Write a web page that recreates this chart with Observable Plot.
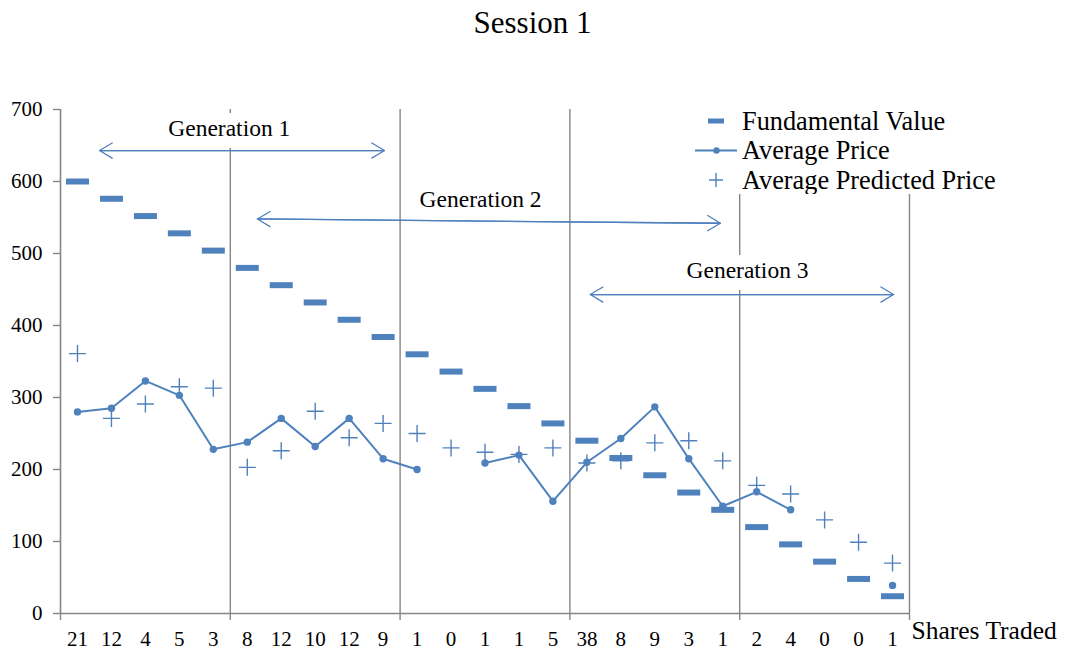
<!DOCTYPE html>
<html>
<head>
<meta charset="utf-8">
<script src="https://cdn.jsdelivr.net/npm/d3@7"></script>
<script src="https://cdn.jsdelivr.net/npm/@observablehq/plot@0.6"></script>
<style>
  body { margin: 0; background: #fff; font-family: "Liberation Serif", "Times New Roman", serif; }
  #wrap { position: relative; width: 1065px; height: 654px; overflow: hidden; }
  #title { height: 48px; line-height: 45px; text-align: center; font-size: 31px; color: #000; }
  #legend { position: absolute; left: 690px; top: 106px; }
  #chart svg, #chart svg text { font-family: "Liberation Serif", "Times New Roman", serif !important; }
</style>
</head>
<body>
<div id="wrap">
  <div id="title">Session 1</div>
  <div id="chart"></div>
  <div id="legend"></div>
</div>
<script>
// ---- data ----
const periods = [1,2,3,4,5,6,7,8,9,10,11,12,13,14,15,16,17,18,19,20,21,22,23,24,25];
const sharesTraded = ["21","12","4","5","3","8","12","10","12","9","1","0","1","1","5","38","8","9","3","1","2","4","0","0","1"];
const fundamentalValue = [600,576,552,528,504,480,456,432,408,384,360,336,312,288,264,240,216,192,168,144,120,96,72,48,24];
const averagePrice = [280,285,323,303,228,238,271,232,271,215,200,null,209,220,156,210,243,287,215,149,169,144,null,null,39];
const averagePredictedPrice = [361,271,291,315,313,203,226,281,244,264,250,230,224,221,230,209,212,237,240,212,178,166,130,99,70];
const yTicks = [0,100,200,300,400,500,600,700];
const generationBoundaries = [5.5,10.5,15.5,20.5,25.5];
const axisTickPositions = [0.5,5.5,10.5,15.5,20.5,25.5];
const seriesNames = ["Fundamental Value","Average Price","Average Predicted Price"];
// generation annotations (in period / price units)
const genNames = ["Generation 1","Generation 2","Generation 3"];
const genLabelX = [5.47, 12.87, 20.73];
const genLabelY = [674, 575, 476];
const genArrowFrom = [1.65, 6.3, 16.1];
const genArrowTo = [10.04, 19.93, 25.03];
const genArrowYFrom = [643, 548, 443];
const genArrowYTo = [643, 542, 443];

// ---- build ----
const blue = "#4F81BD";
const gray = "#868686";
const serif = "'Liberation Serif', 'Times New Roman', serif";
const rows = periods.map((p, i) => ({
  period: p, fv: fundamentalValue[i], price: averagePrice[i], pred: averagePredictedPrice[i]
}));
const gens = genNames.map((name, i) => ({
  name, lx: genLabelX[i], ly: genLabelY[i],
  x1: genArrowFrom[i], x2: genArrowTo[i], y1: genArrowYFrom[i], y2: genArrowYTo[i]
}));

const dashSymbol = { draw(ctx) { ctx.rect(-11.5, -3, 23, 6); } };
const plusSymbol = { draw(ctx) { ctx.moveTo(-8.5, 0); ctx.lineTo(8.5, 0); ctx.moveTo(0, -8.5); ctx.lineTo(0, 8.5); } };

const chart = Plot.plot({
  width: 1065,
  height: 606,
  marginTop: 61,
  marginBottom: 41,
  marginLeft: 60,
  marginRight: 156,
  style: `background: #fff; font-family: ${serif}; color: #000;`,
  x: { type: "linear", domain: [0.5, 25.5] },
  y: { domain: [0, 700] },
  marks: [
    Plot.ruleX(generationBoundaries, { stroke: gray, strokeWidth: 1.4 }),
    Plot.ruleX([0.5], { stroke: gray, strokeWidth: 1.6 }),
    Plot.ruleY([0], { stroke: gray, strokeWidth: 1.6 }),
    Plot.axisY({ ticks: yTicks, tickSize: 7, tickPadding: 11, stroke: gray, fill: "#000", fontSize: 21, label: null, strokeWidth: 1.4, fontFamily: serif }),
    Plot.axisX({ ticks: axisTickPositions, tickSize: 7, tickFormat: () => "", stroke: gray, strokeWidth: 1.4, label: null }),
    Plot.axisX({ ticks: periods, tickSize: 0, tickPadding: 18, tickFormat: d => sharesTraded[d - 1], fill: "#000", fontSize: 21, label: null, fontFamily: serif }),
    Plot.text(["Shares Traded"], { frameAnchor: "bottom-right", textAnchor: "start", dx: 2, dy: 25, fontSize: 25.5, fill: "#000", fontFamily: serif }),
    // generation annotations (white box behind label hides the boundary rules)
    Plot.text(gens, { x: "lx", y: "ly", text: "name", fontSize: 23.5, fill: "#000", stroke: "#fff", strokeWidth: 24, fontFamily: serif }),
    Plot.arrow(gens, { x1: "x1", y1: "y1", x2: "x2", y2: "y2", stroke: blue, strokeWidth: 1.3, headLength: 17, headAngle: 62 }),
    Plot.arrow(gens, { x1: "x2", y1: "y2", x2: "x1", y2: "y1", stroke: blue, strokeWidth: 1.3, headLength: 17, headAngle: 62 }),
    // series
    Plot.dot(rows, { x: "period", y: "fv", symbol: dashSymbol, fill: blue, stroke: "none" }),
    Plot.line(rows, { x: "period", y: "price", stroke: blue, strokeWidth: 2 }),
    Plot.dot(rows.filter(d => d.price != null), { x: "period", y: "price", r: 3.7, fill: blue, stroke: "none" }),
    Plot.dot(rows, { x: "period", y: "pred", symbol: plusSymbol, fill: "none", stroke: blue, strokeWidth: 1.4 })
  ]
});
document.getElementById("chart").appendChild(chart);

// ---- legend ----
const leg = d3.select("#legend").append("svg").attr("width", 345).attr("height", 88)
  .style("display", "block")
  .style("font-family", serif);
leg.append("rect").attr("width", 345).attr("height", 88).attr("fill", "#fff");
const rowY = [15, 44.5, 74];
// Fundamental value swatch
leg.append("rect").attr("x", 18).attr("y", rowY[0] - 2.5).attr("width", 16).attr("height", 5).attr("fill", blue);
// Average price swatch
leg.append("line").attr("x1", 5).attr("x2", 47).attr("y1", rowY[1]).attr("y2", rowY[1]).attr("stroke", blue).attr("stroke-width", 2);
leg.append("circle").attr("cx", 26.5).attr("cy", rowY[1]).attr("r", 3.2).attr("fill", blue);
// Average predicted price swatch
leg.append("path").attr("d", `M19,${rowY[2]}h14M26,${rowY[2] - 7}v14`).attr("stroke", blue).attr("stroke-width", 1.4).attr("fill", "none");
leg.selectAll("text.lab").data(seriesNames).join("text").attr("class", "lab")
  .attr("x", 52).attr("y", (d, i) => rowY[i] + 8.5)
  .attr("font-size", 26.3).attr("fill", "#000").text(d => d);
</script>
</body>
</html>
